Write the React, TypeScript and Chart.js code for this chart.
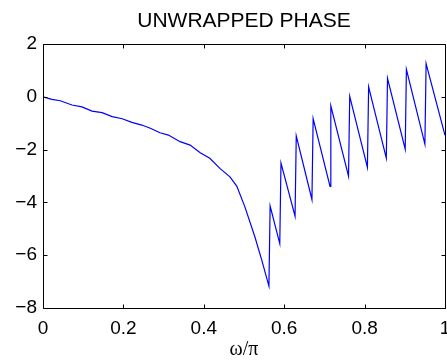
import React, { useEffect, useRef } from "react";
import { Chart, registerables } from "chart.js";

Chart.register(...registerables);

// normalized frequency (omega / pi)
const omega = [
  0, 0.022, 0.043, 0.072, 0.097, 0.122, 0.147, 0.172, 0.197, 0.221, 0.246, 0.267,
  0.291, 0.312, 0.341, 0.366, 0.391, 0.415, 0.44, 0.465, 0.482, 0.502, 0.527, 0.544,
  0.562, 0.565, 0.589, 0.592, 0.627, 0.63, 0.669, 0.672, 0.714, 0.716, 0.76, 0.763,
  0.807, 0.81, 0.854, 0.857, 0.901, 0.904, 0.95, 0.953, 1.0,
];
// unwrapped phase (radians)
const phase = [
  0, -0.1, -0.15, -0.31, -0.38, -0.54, -0.6, -0.75, -0.83, -0.97, -1.07, -1.19,
  -1.36, -1.45, -1.7, -1.83, -2.12, -2.33, -2.71, -3.03, -3.38, -4.16, -5.3, -6.18,
  -7.17, -4.14, -5.56, -2.51, -4.52, -1.48, -3.89, -0.83, -3.39, -0.34, -3.01, 0.02,
  -2.67, 0.38, -2.32, 0.7, -1.98, 1.04, -1.79, 1.26, -1.46,
];

const xTicks = [0, 0.2, 0.4, 0.6, 0.8, 1];
const xTickLabels = ["0", "0.2", "0.4", "0.6", "0.8", "1"];
const yTicks = [-8, -6, -4, -2, 0, 2];
const yTickLabels = ["\u22128", "\u22126", "\u22124", "\u22122", "0", "2"];
const titleText = "UNWRAPPED PHASE";
const xLabel = "\u03c9/\u03c0";

const TICK_LEN = 4;

const boxPlugin = {
  id: "matlabBox",
  afterDatasetsDraw(chart: any) {
    const { ctx, chartArea: a, scales } = chart;
    const L = Math.round(a.left) + 0.5;
    const R = Math.round(a.right) + 0.5;
    const T = Math.round(a.top) + 0.5;
    const B = Math.round(a.bottom) + 0.5;
    ctx.save();
    ctx.strokeStyle = "#000";
    ctx.lineWidth = 1;
    ctx.beginPath();
    ctx.rect(L, T, R - L, B - T);
    for (const v of xTicks) {
      const px = Math.round(scales.x.getPixelForValue(v)) + 0.5;
      ctx.moveTo(px, B);
      ctx.lineTo(px, B - TICK_LEN);
      ctx.moveTo(px, T);
      ctx.lineTo(px, T + TICK_LEN);
    }
    for (const v of yTicks) {
      const py = Math.round(scales.y.getPixelForValue(v)) + 0.5;
      ctx.moveTo(L, py);
      ctx.lineTo(L + TICK_LEN, py);
      ctx.moveTo(R, py);
      ctx.lineTo(R - TICK_LEN, py);
    }
    ctx.stroke();
    ctx.restore();
  },
};

export default function App() {
  const ref = useRef<HTMLCanvasElement | null>(null);

  useEffect(() => {
    document.body.style.margin = "0";
    const canvas = ref.current;
    if (!canvas) return;
    const chart = new Chart(canvas, {
      type: "scatter",
      data: {
        datasets: [
          {
            data: omega.map((x, i) => ({ x, y: phase[i] })),
            showLine: true,
            borderColor: "#0000ff",
            borderWidth: 1.2,
            pointRadius: 0,
            tension: 0,
            fill: false,
          },
        ],
      },
      options: {
        animation: false,
        responsive: false,
        devicePixelRatio: 1,
        events: [],
        layout: { padding: { left: 0, right: 2, top: 0, bottom: 0 } },
        plugins: {
          legend: { display: false },
          tooltip: { enabled: false },
          title: {
            display: true,
            text: titleText,
            fullSize: false,
            color: "#000",
            font: { family: "'Liberation Sans', Arial, sans-serif", size: 21, weight: "normal", lineHeight: 1.2 },
            padding: { top: 9, bottom: 9.8 },
          },
        },
        scales: {
          x: {
            type: "linear",
            min: 0,
            max: 1,
            afterBuildTicks: (s: any) => {
              s.ticks = xTicks.map((v) => ({ value: v }));
            },
            afterFit: (s: any) => {
              s.height = 56;
              s.paddingLeft = 0;
              s.paddingRight = 0;
            },
            grid: { display: false, drawTicks: false },
            border: { display: false },
            ticks: {
              color: "#000",
              padding: 9,
              maxRotation: 0,
              autoSkip: false,
              font: { family: "'Liberation Sans', Arial, sans-serif", size: 19 },
              callback: (v: any) => {
                const i = xTicks.findIndex((t) => Math.abs(t - v) < 1e-9);
                return i >= 0 ? xTickLabels[i] : "";
              },
            },
            title: {
              display: true,
              text: xLabel,
              color: "#000",
              font: { family: "'Liberation Serif', 'Times New Roman', serif", size: 20 },
              padding: { top: 0, bottom: 2 },
            },
          },
          y: {
            type: "linear",
            min: -8,
            max: 2,
            afterBuildTicks: (s: any) => {
              s.ticks = yTicks.map((v) => ({ value: v }));
            },
            afterFit: (s: any) => {
              s.width = 43;
              s.paddingTop = 0;
              s.paddingBottom = 0;
            },
            grid: { display: false, drawTicks: false },
            border: { display: false },
            ticks: {
              color: "#000",
              padding: 6,
              autoSkip: false,
              font: { family: "'Liberation Sans', Arial, sans-serif", size: 19 },
              callback: (v: any) => {
                const i = yTicks.findIndex((t) => Math.abs(t - v) < 1e-9);
                return i >= 0 ? yTickLabels[i] : "";
              },
            },
          },
        },
      },
      plugins: [boxPlugin],
    } as any);
    return () => chart.destroy();
  }, []);

  return (
    <div style={{ position: "fixed", left: 0, top: 0, width: 447, height: 364, background: "#fff" }}>
      <canvas ref={ref} width={447} height={364} style={{ display: "block", width: 447, height: 364 }} />
    </div>
  );
}
